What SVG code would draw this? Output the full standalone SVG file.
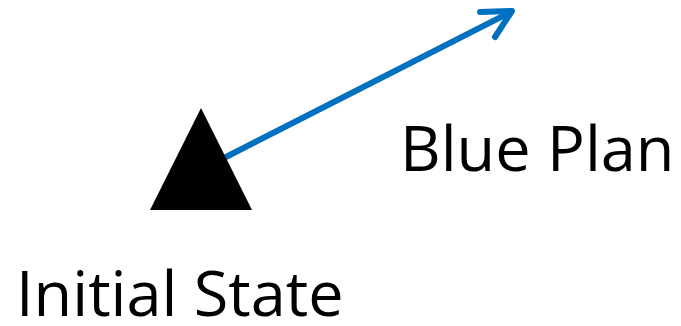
<svg xmlns="http://www.w3.org/2000/svg" width="681" height="326" viewBox="0 0 681 326">
<style>
.lbl{font-family:"Open Sans","Liberation Sans",sans-serif;fill:#000;font-size:63px}
.conn{stroke:#0070C0;stroke-width:6;fill:none;stroke-linecap:round;stroke-linejoin:round}
</style>
<rect width="681" height="326" fill="#fff"/>
<g id="connectors">
<line class="conn" x1="222" y1="159" x2="511" y2="12"/>
<polyline class="conn" points="480,12 512,11 495,37"/>
</g>
<g id="initial-state">
<polygon points="201,108 150,210 252,210" fill="#000"/>
<text class="lbl" x="16" y="316">Initial State</text>
</g>
<g id="blue-plan">
<text class="lbl" x="400" y="171" font-size="62">Blue Plan</text>
</g>
</svg>
